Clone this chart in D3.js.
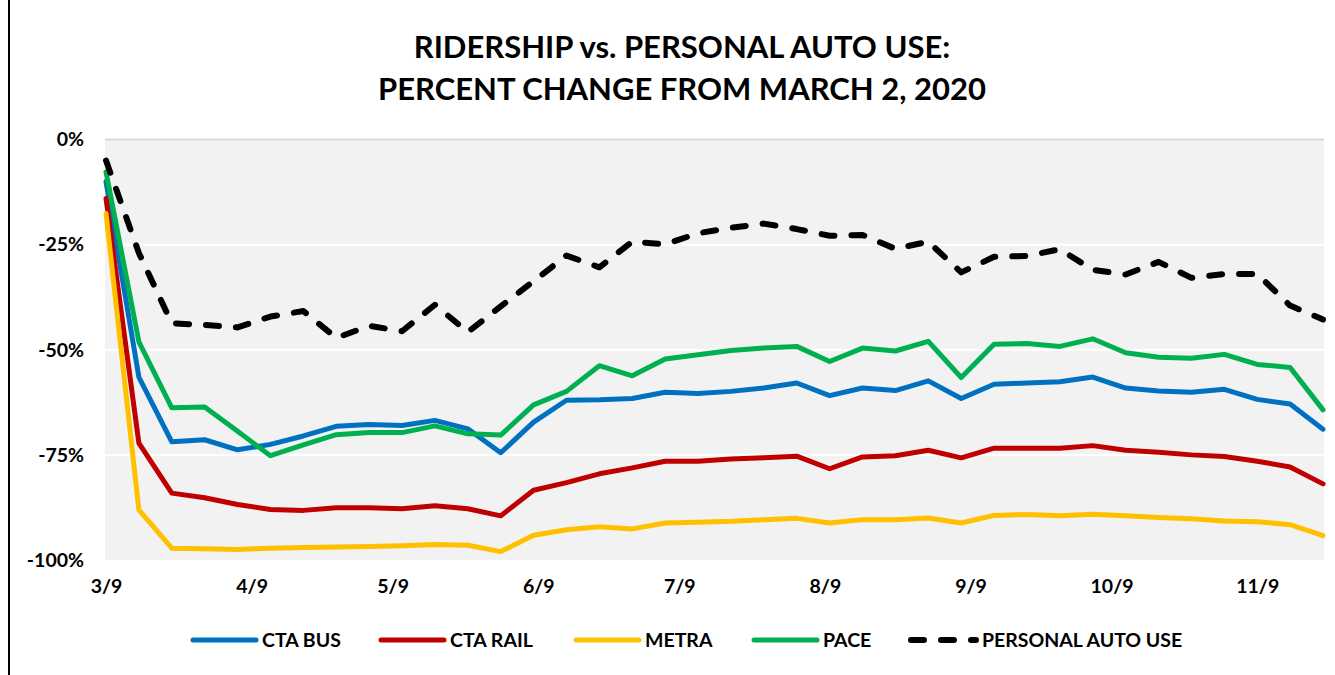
<!DOCTYPE html>
<html>
<head>
<meta charset="utf-8">
<script src="https://cdn.jsdelivr.net/npm/d3@7"></script>
<style>
  body { margin: 0; background: #fff; }
  svg text { font-family: Lato, "Open Sans", sans-serif; font-weight: 700; fill: #000; }
</style>
</head>
<body>
<div id="chart"></div>
<script>
// weekly dates (2020)
var weeks = ["3/9", "3/16", "3/23", "3/30", "4/6", "4/13", "4/20", "4/27", "5/4", "5/11",
    "5/18", "5/25", "6/1", "6/8", "6/15", "6/22", "6/29", "7/6", "7/13", "7/20",
    "7/27", "8/3", "8/10", "8/17", "8/24", "8/31", "9/7", "9/14", "9/21", "9/28",
    "10/5", "10/12", "10/19", "10/26", "11/2", "11/9", "11/16", "11/23"];

var ctaBus = [-10, -56.5, -71.9, -71.4, -73.8, -72.5, -70.5, -68.2, -67.8, -68,
    -66.8, -68.8, -74.5, -67.2, -62, -61.9, -61.6, -60.1, -60.4, -59.9,
    -59.1, -57.9, -60.9, -59.1, -59.7, -57.4, -61.6, -58.2, -57.9, -57.6,
    -56.5, -59.1, -59.8, -60.1, -59.4, -61.8, -62.9, -68.9];

var ctaRail = [-14, -72.2, -84.1, -85.2, -86.8, -88, -88.2, -87.6, -87.6, -87.8,
    -87.1, -87.8, -89.5, -83.4, -81.6, -79.5, -78.1, -76.5, -76.5, -76,
    -75.7, -75.3, -78.3, -75.5, -75.2, -73.9, -75.7, -73.4, -73.4, -73.4,
    -72.8, -73.9, -74.4, -75, -75.4, -76.5, -77.9, -81.9];

var metra = [-17.6, -88.1, -97.2, -97.3, -97.5, -97.2, -97, -96.9, -96.8, -96.6,
    -96.3, -96.5, -98, -94.1, -92.8, -92.1, -92.6, -91.2, -91, -90.8,
    -90.4, -90.1, -91.2, -90.4, -90.4, -90, -91.2, -89.4, -89.2, -89.5,
    -89.1, -89.5, -89.9, -90.2, -90.7, -90.9, -91.6, -94.2];

var pace = [-7.7, -48.1, -63.8, -63.6, -69.4, -75.2, -72.6, -70.2, -69.7, -69.7,
    -68.1, -70, -70.3, -63.1, -59.9, -53.8, -56.2, -52.2, -51.2, -50.2,
    -49.6, -49.2, -52.8, -49.6, -50.3, -48, -56.6, -48.7, -48.5, -49.2,
    -47.4, -50.7, -51.8, -52, -51.1, -53.5, -54.2, -64.3];

var autoUse = [-5, -27, -43.7, -44.1, -44.7, -42.1, -40.8, -47.2, -44.3, -45.6,
    -39.3, -45.8, -39.7, -33.7, -27.6, -30.4, -24.3, -24.9, -22.3, -21,
    -20, -21.3, -22.9, -22.7, -26, -24.3, -31.6, -27.9, -27.7, -26.1,
    -31, -32.1, -29.1, -32.9, -32, -32, -39.5, -42.8];

var xTickLabels = ["3/9", "4/9", "5/9", "6/9", "7/9", "8/9", "9/9", "10/9", "11/9"];
var yTicks = [0, -25, -50, -75, -100];

var seriesNames = ["CTA BUS", "CTA RAIL", "METRA", "PACE", "PERSONAL AUTO USE"];
var seriesColors = ["#0070c0", "#c00000", "#ffc000", "#00b050", "#000000"];

var width = 1335, height = 675;
var plotLeft = 105, plotRight = 1324, plotTop = 139.5, plotBottom = 560;

var parseDay = function (s) { return d3.timeParse("%m/%d/%Y")(s + "/2020"); };
var dates = weeks.map(parseDay);

var series = [ctaBus, ctaRail, metra, pace, autoUse].map(function (vals, k) {
    return {
        name: seriesNames[k],
        color: seriesColors[k],
        dashed: k === 4,
        values: vals.map(function (v, i) { return { date: dates[i], value: v }; })
    };
});

var svg = d3.select("#chart").append("svg")
    .attr("width", width)
    .attr("height", height);

// frame line on the left
svg.append("line")
    .attr("x1", 9).attr("x2", 9)
    .attr("y1", 0).attr("y2", height)
    .attr("stroke", "#000")
    .attr("stroke-width", 2);

var x = d3.scaleTime()
    .domain([dates[0], dates[dates.length - 1]])
    .range([plotLeft + 1, plotRight - 1]);

var y = d3.scaleLinear()
    .domain([-100, 0])
    .range([plotBottom, plotTop]);

// plot background
svg.append("rect")
    .attr("x", plotLeft)
    .attr("y", plotTop)
    .attr("width", plotRight - plotLeft)
    .attr("height", plotBottom - plotTop)
    .attr("fill", "#f2f2f2");

// gridlines
svg.append("g").selectAll("line")
    .data(yTicks.filter(function (t) { return t !== -100; }))
    .enter().append("line")
    .attr("x1", plotLeft).attr("x2", plotRight)
    .attr("y1", function (d) { return y(d); })
    .attr("y2", function (d) { return y(d); })
    .attr("stroke", function (d) { return d === 0 ? "#d9d9d9" : "#fff"; })
    .attr("stroke-width", 2);

// title
var title = svg.append("g").attr("transform", "translate(682,0)");
title.append("text")
    .attr("y", 58)
    .attr("text-anchor", "middle")
    .style("font-size", "31px")
    .text("RIDERSHIP vs. PERSONAL AUTO USE:");
title.append("text")
    .attr("y", 100)
    .attr("text-anchor", "middle")
    .style("font-size", "31px")
    .text("PERCENT CHANGE FROM MARCH 2, 2020");

// y axis
var yAxis = d3.axisLeft(y)
    .tickValues(yTicks)
    .tickSize(0)
    .tickPadding(0)
    .tickFormat(function (d) { return d + "%"; });

svg.append("g")
    .attr("class", "y axis")
    .attr("transform", "translate(84,0)")
    .call(yAxis)
    .call(function (g) { g.select(".domain").remove(); })
    .selectAll("text")
    .style("font-size", "19.5px")
    .style("font-family", "Lato, sans-serif")
    .style("font-weight", 700);

// x axis
var xAxis = d3.axisBottom(x)
    .tickValues(xTickLabels.map(parseDay))
    .tickSize(0)
    .tickPadding(0)
    .tickFormat(d3.timeFormat("%-m/%-d"));

svg.append("g")
    .attr("class", "x axis")
    .attr("transform", "translate(0,579)")
    .call(xAxis)
    .call(function (g) { g.select(".domain").remove(); })
    .selectAll("text")
    .style("font-size", "19.5px")
    .style("font-family", "Lato, sans-serif")
    .style("font-weight", 700);

// lines
var line = d3.line()
    .x(function (d) { return x(d.date); })
    .y(function (d) { return y(d.value); });

svg.append("g").selectAll("path")
    .data(series)
    .enter().append("path")
    .attr("d", function (d) { return line(d.values); })
    .attr("fill", "none")
    .attr("stroke", function (d) { return d.color; })
    .attr("stroke-width", function (d) { return d.dashed ? 6 : 5; })
    .attr("stroke-linejoin", "round")
    .attr("stroke-linecap", "round")
    .attr("stroke-dasharray", function (d) { return d.dashed ? "13,17" : null; });

// legend
var legendX = [190, 378, 573, 751, 908];
var legend = svg.append("g").attr("class", "legend");
var items = legend.selectAll("g")
    .data(series)
    .enter().append("g")
    .attr("transform", function (d, i) { return "translate(" + legendX[i] + ",640)"; });

items.append("line")
    .attr("x1", 3).attr("x2", function (d) { return d.dashed ? 68 : 66; })
    .attr("y1", 0).attr("y2", 0)
    .attr("stroke", function (d) { return d.color; })
    .attr("stroke-width", function (d) { return d.dashed ? 6 : 5; })
    .attr("stroke-linecap", "round")
    .attr("stroke-dasharray", function (d) { return d.dashed ? "13,17" : null; });

items.append("text")
    .attr("x", function (d) { return d.dashed ? 74 : 72; })
    .attr("y", 7)
    .style("font-size", "19.5px")
    .text(function (d) { return d.name; });
</script>
</body>
</html>
